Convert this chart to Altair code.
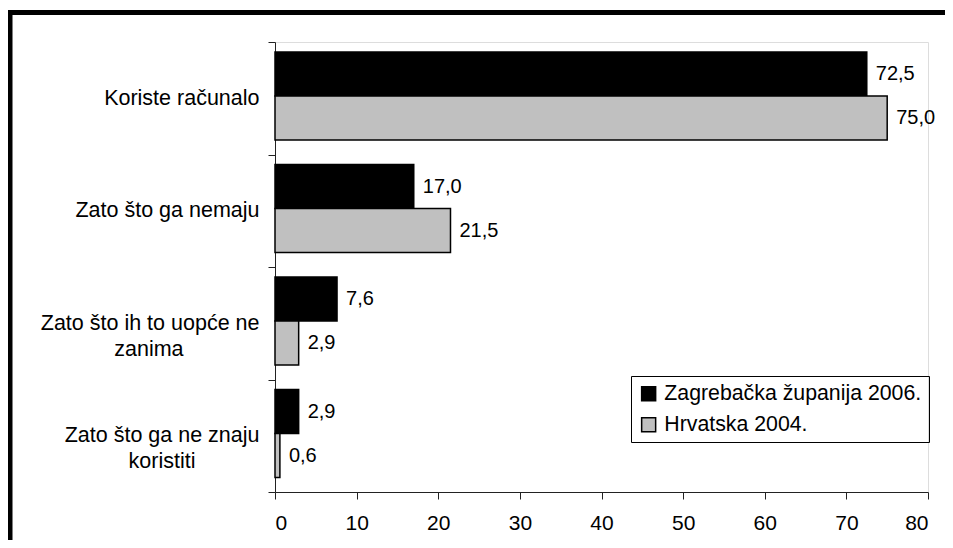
import altair as alt
import pandas as pd

categories = [
    "Koriste računalo",
    "Zato što ga nemaju",
    "Zato što ih to uopće ne zanima",
    "Zato što ga ne znaju koristiti",
]
series = ["Zagrebačka županija 2006.", "Hrvatska 2004."]
zagreb_2006 = [72.5, 17.0, 7.6, 2.9]
hrvatska_2004 = [75.0, 21.5, 2.9, 0.6]
x_ticks = [0, 10, 20, 30, 40, 50, 60, 70, 80]

rows = []
for c, v in zip(categories, zagreb_2006):
    rows.append({"cat": c, "series": series[0], "v": v})
for c, v in zip(categories, hrvatska_2004):
    rows.append({"cat": c, "series": series[1], "v": v})
df = pd.DataFrame(rows)

FONT = "Liberation Sans"
BR = "\u2800"
FIG = "\u2007"

label_expr = (
    "datum.label == 'Zato što ih to uopće ne zanima' ? ['Zato što ih to uopće ne', 'zanima" + FIG + BR * 4 + "'] : "
    "datum.label == 'Zato što ga ne znaju koristiti' ? ['Zato što ga ne znaju', 'koristiti" + BR * 4 + "'] : datum.label"
)

y_enc = alt.Y(
    "cat:N",
    sort=categories,
    scale=alt.Scale(paddingInner=0, paddingOuter=0),
    axis=alt.Axis(
        title=None,
        tickBand="extent",
        tickSize=7,
        labelPadding=9,
        labelAlign="right",
        labelFont=FONT,
        labelFontSize=21.5,
        labelColor="black",
        labelLineHeight=26,
        labelExpr=label_expr,
        domainColor="#222",
        tickColor="#222",
        labelLimit=400,
    ),
)
yoff = alt.YOffset(
    "series:N",
    sort=series,
    scale=alt.Scale(paddingOuter=0.278, paddingInner=0, align=0.41),
)

bars = alt.Chart(df).mark_bar(stroke="black", strokeWidth=1.5).encode(
    x=alt.X(
        "v:Q",
        scale=alt.Scale(domain=[0, 80], nice=False),
        axis=alt.Axis(
            title=None,
            values=x_ticks,
            tickSize=7,
            labelPadding=13,
            labelFont=FONT,
            labelFontSize=21,
            labelColor="black",
            domainColor="#222",
            tickColor="#222",
            grid=False,
        ),
    ),
    y=y_enc,
    yOffset=yoff,
    color=alt.Color(
        "series:N",
        sort=series,
        scale=alt.Scale(domain=series, range=["black", "#C0C0C0"]),
        legend=alt.Legend(
            title=None,
            orient="none",
            legendX=356,
            legendY=334,
            padding=7,
            strokeColor="black",
            symbolType="square",
            symbolSize=196,
            symbolStrokeColor="black",
            symbolStrokeWidth=1.5,
            labelFont=FONT,
            labelFontSize=21.3,
            labelColor="black",
            labelOffset=5,
            rowPadding=9,
            labelLimit=400,
        ),
    ),
)

texts = alt.Chart(df).transform_calculate(
    lbl="replace(format(datum.v, '.1f'), '.', ',')"
).mark_text(align="left", baseline="middle", dx=9, font=FONT, fontSize=20, color="black").encode(
    x="v:Q",
    y=alt.Y("cat:N", sort=categories),
    yOffset=alt.YOffset("series:N", sort=series),
    text="lbl:N",
)

frame_df = pd.DataFrame({"a": [0]})
frame_top = alt.Chart(frame_df).mark_rule(color="black", strokeWidth=5).encode(
    x=alt.value(-267), x2=alt.value(680), y=alt.value(-29.5)
)
frame_left = alt.Chart(frame_df).mark_rule(color="black", strokeWidth=5).encode(
    x=alt.value(-265), y=alt.value(-32), y2=alt.value(500)
)

chart = alt.layer(bars, texts, frame_top, frame_left).properties(
    width=653,
    height=450,
    autosize=alt.AutoSizeParams(type="none"),
    padding={"left": 267, "top": 34, "right": 17, "bottom": 48},
).configure_view(stroke=None).configure(background="white")

chart.save("out.html", embed_options={"renderer": "svg", "actions": False})
